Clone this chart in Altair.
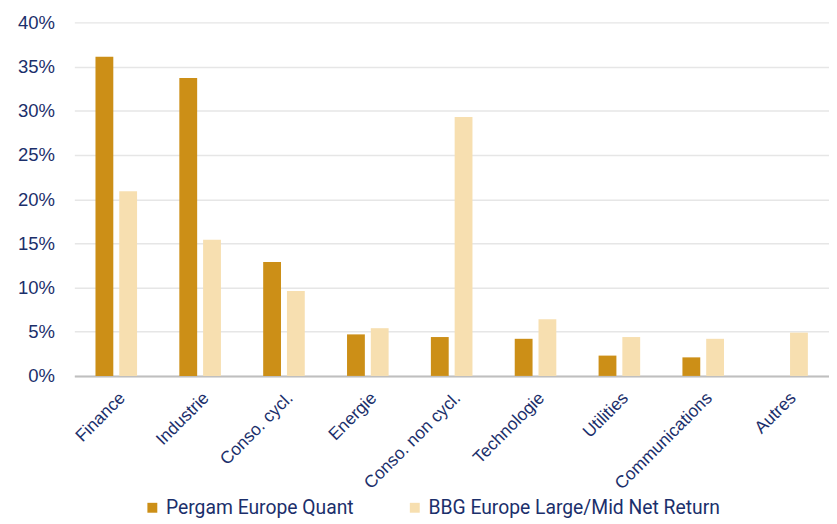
import altair as alt
import pandas as pd

categories = ["Finance", "Industrie", "Conso. cycl.", "Energie", "Conso. non cycl.",
              "Technologie", "Utilities", "Communications", "Autres"]
series_names = ["Pergam Europe Quant", "BBG Europe Large/Mid Net Return"]
pergam = [36.1, 33.7, 12.9, 4.7, 4.4, 4.2, 2.3, 2.1, 0.0]
bbg = [20.9, 15.4, 9.6, 5.4, 29.3, 6.4, 4.4, 4.2, 4.9]
colors = ["#CC8F17", "#F7DFB0"]
text_color = "#1B2F6B"

rows = []
for c, p, b in zip(categories, pergam, bbg):
    rows.append({"cat": c, "series": series_names[0], "value": p / 100})
    rows.append({"cat": c, "series": series_names[1], "value": b / 100})
df = pd.DataFrame(rows)

chart = alt.Chart(df).mark_bar().encode(
    x=alt.X("cat:N", sort=categories, title=None,
            scale=alt.Scale(paddingInner=0.504, paddingOuter=0.252),
            axis=alt.Axis(labelAngle=-45, labelFontSize=17.5, labelColor=text_color,
                          labelFont="Liberation Sans", ticks=False, domainColor="#BFBFBF",
                          domainWidth=2, labelPadding=13, grid=False,
                          labelAlign="right", labelBaseline="top")),
    xOffset=alt.XOffset("series:N", sort=series_names,
                        scale=alt.Scale(paddingInner=0.25, paddingOuter=0)),
    y=alt.Y("value:Q", title=None,
            scale=alt.Scale(domain=[0, 0.4], nice=False),
            axis=alt.Axis(format=".0%", values=[0, 0.05, 0.1, 0.15, 0.2, 0.25, 0.3, 0.35, 0.4],
                          labelFontSize=18.7, labelColor=text_color, labelFont="Liberation Sans",
                          ticks=False, domain=False, labelPadding=20,
                          gridColor="#E6E6E6", gridWidth=1.5)),
    color=alt.Color("series:N", sort=series_names, title=None,
                    scale=alt.Scale(domain=series_names, range=colors),
                    legend=alt.Legend(orient="none", legendX=69, legendY=480,
                                      direction="horizontal", symbolType="square",
                                      symbolSize=100, symbolStrokeWidth=0,
                                      labelFontSize=19.5, labelFont="Roboto",
                                      labelColor=text_color, labelLimit=0,
                                      columnPadding=51, symbolOffset=0, labelOffset=4)),
).properties(
    width=762, height=357,
    autosize=alt.AutoSizeParams(type="none"),
    padding={"left": 67, "top": 12, "right": 0, "bottom": 147},
).configure_view(stroke=None)

chart.save("out.html", embed_options={"renderer": "svg", "actions": False})
